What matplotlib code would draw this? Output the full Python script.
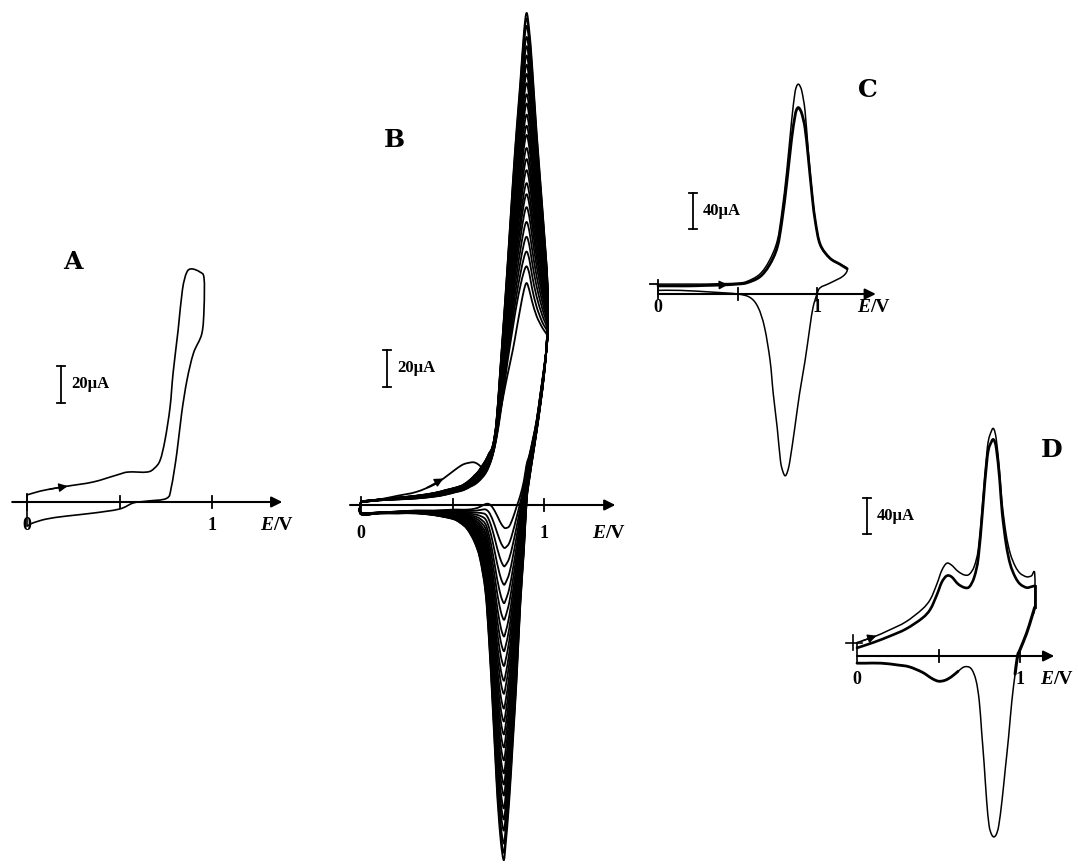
import matplotlib
matplotlib.use("Agg")
import matplotlib.pyplot as plt
from matplotlib.path import Path
from matplotlib.patches import PathPatch
import numpy as np

# ---------------- data (E in V, current in microampere) ----------------
# Panel A : first scan
A_fwd_E = [0.00, 0.05, 0.105, 0.214, 0.357, 0.486, 0.547, 0.65, 0.69, 0.72, 0.746,
           0.773, 0.79, 0.817, 0.84, 0.863, 0.89, 0.935, 0.957]
A_fwd_I = [3.8, 5.3, 6.6, 8.5, 10.8, 14.6, 16.2, 16.2, 18.4, 22.7, 33.5,
           51, 70, 93, 114.6, 124, 126, 124.3, 121]
A_rev_E = [0.957, 0.945, 0.90, 0.865, 0.836, 0.81, 0.78, 0.755, 0.65, 0.575,
           0.50, 0.357, 0.214, 0.105, 0.03, 0.005]
A_rev_I = [105, 91, 80.5, 66, 48, 26.5, 8, 2, 0.5, -0.5,
           -3.8, -6, -7.6, -9.2, -11.4, -12.8]

B_fwd_E = [0.00, 0.10, 0.20, 0.30, 0.40, 0.46, 0.52, 0.56, 0.60, 0.62, 0.64, 0.66, 0.68,
           0.70, 0.72, 0.74, 0.76, 0.78, 0.80, 0.83, 0.85, 0.87, 0.89, 0.905, 0.92,
           0.935, 0.96, 0.99, 1.02]
B_fwd_first = [1.5, 3, 5, 7, 11, 15, 19.5, 22, 23, 23, 22, 20.5, 21,
               26, 32, 40, 50, 60, 70, 84, 95, 106, 116, 120, 116,
               110, 102, 96, 91]
B_fwd_second = [1.5, 2.5, 3, 3.5, 4.5, 5.5, 7, 8, 10, 11, 12.5, 14.5, 17,
                21, 27, 36, 48, 62, 77, 96, 108, 118, 126, 129, 125,
                117, 107, 99, 93]
B_fwd_last = [2, 3, 4, 5, 6.5, 8, 9.5, 11, 14, 16, 18, 21, 24,
              28, 32, 45, 72, 100, 129, 175, 203, 228, 255, 266, 256,
              238, 201, 162, 118]
B_rev_E = [1.02, 1.015, 1.00, 0.98, 0.96, 0.94, 0.92, 0.905, 0.89, 0.87, 0.85, 0.83,
           0.81, 0.79, 0.78, 0.765, 0.75, 0.74, 0.72, 0.70, 0.68, 0.65, 0.62, 0.58,
           0.54, 0.50, 0.40, 0.30, 0.20, 0.10, 0.00]
B_rev_first = [91, 86, 74, 60, 46, 36, 27, 22, 13, 5, -1, -7,
               -11.5, -12.5, -12, -10, -7, -5, -1.5, 0.5, 0.5, -1, -2, -2.5,
               -2.5, -2.5, -3, -3, -3.5, -4, -4]
B_rev_last = [118, 88, 70, 54, 40, 27, 14, 2, -25, -55, -95, -128,
              -160, -184, -192, -183, -165, -149, -110, -74, -47, -29, -20, -13,
              -9.5, -7.5, -5.5, -4.5, -4.5, -4.5, -5]
B_ipa = [120, 129, 137, 145, 153, 161, 168, 174, 181, 187, 193, 200, 205,
         211, 217, 222, 228, 233, 238, 243, 248, 253, 259, 263, 266]
B_ipc = [-12, -23, -33, -43, -53, -62, -71, -79, -87, -95, -102, -110, -117,
         -124, -131, -138, -145, -151, -157, -164, -170, -176, -183, -188, -192]

# Panel C
C_fwd_E = [0.00, 0.10, 0.20, 0.30, 0.40, 0.50, 0.56, 0.64, 0.70, 0.75, 0.78, 0.81,
           0.84, 0.86, 0.87, 0.88, 0.89, 0.905, 0.925, 0.945, 0.97, 0.99, 1.02,
           1.08, 1.145, 1.19]
C_fwd_outer = [11, 11, 11, 11, 11.5, 12, 14, 22, 37, 59, 92, 137,
               192, 222, 230, 233, 232, 225, 203, 159, 111, 81, 55,
               40, 33, 28]
C_fwd_inner = [9, 9, 9, 9.5, 10, 11, 12.5, 19, 32, 52, 82, 124,
               172, 196, 204, 207, 206, 200, 184, 152, 108, 80, 55,
               40, 33, 28]
C_rev_E = [1.165, 1.08, 1.02, 1.00, 0.975, 0.955, 0.925, 0.89, 0.86, 0.83,
           0.815, 0.80, 0.785, 0.77, 0.75, 0.725, 0.705, 0.67, 0.63, 0.58, 0.50,
           0.35, 0.14, 0.00]
C_rev_I = [20, 12, 7, 0, -15, -37, -74, -111, -149, -185,
           -197, -202, -197, -185, -149, -111, -74, -37, -15, -4, 0,
           2, 4, 4]

# Panel D
D_fwd_E = [0.00, 0.10, 0.20, 0.30, 0.40, 0.45, 0.49, 0.52, 0.55, 0.58, 0.62, 0.66,
           0.69, 0.72, 0.745, 0.77, 0.80, 0.825, 0.84, 0.855, 0.875, 0.89, 0.915,
           0.94, 0.97, 1.00, 1.04, 1.07, 1.09]
D_fwd_outer = [15, 21, 29, 38, 52, 63, 80, 95, 103, 101, 94, 90,
               91, 100, 120, 170, 232, 250, 252, 240, 205, 170, 135,
               114, 100, 92, 88, 89, 92]
D_fwd_inner = [9, 15, 22, 30, 42, 52, 68, 82, 89, 88, 80, 76,
               77, 88, 110, 160, 222, 238, 240, 230, 196, 160, 124,
               102, 88, 80, 76, 77, 78]
D_rev_E = [1.09, 1.07, 1.04, 1.00, 0.985, 0.97, 0.95, 0.93, 0.91, 0.89, 0.87,
           0.855, 0.84, 0.825, 0.81, 0.795, 0.78, 0.765, 0.75, 0.73, 0.70, 0.66,
           0.62, 0.58, 0.54, 0.50, 0.46, 0.40, 0.32, 0.25, 0.15, 0.05, 0.00]
D_rev_I = [54, 42, 25, 7, 0, -20, -50, -90, -125, -160, -188,
           -198, -201, -198, -188, -160, -120, -85, -50, -27, -14, -12,
           -17, -23, -27, -28, -25, -18, -12, -10, -8, -8, -8]

# ---------------- layout ----------------
W, H = 1078, 864
fig = plt.figure(figsize=(W / 100, H / 100), dpi=100)
fig.patch.set_facecolor("white")

SERIF = "Liberation Serif"
LETTER = "DejaVu Serif"


def make_panel(x0, y0, sx, sy, elim, ilim):
    lp = x0 + elim[0] * sx
    rp = x0 + elim[1] * sx
    tp = y0 - ilim[1] * sy
    bp = y0 - ilim[0] * sy
    ax = fig.add_axes([lp / W, 1 - bp / H, (rp - lp) / W, (bp - tp) / H])
    ax.set_xlim(elim)
    ax.set_ylim(ilim)
    ax.set_axis_off()
    ax.patch.set_visible(False)
    return ax


def curve(ax, E, I, lw=1.1):
    """Draw the read points as a smooth Catmull-Rom curve (cubic Bezier path)."""
    P = np.column_stack([np.asarray(E, float), np.asarray(I, float)])
    n = len(P)
    verts = [P[0]]
    codes = [Path.MOVETO]
    for i in range(n - 1):
        p0 = P[i - 1] if i > 0 else P[i]
        p1, p2 = P[i], P[i + 1]
        p3 = P[i + 2] if i + 2 < n else P[i + 1]
        verts += [p1 + (p2 - p0) / 6.0, p2 - (p3 - p1) / 6.0, p2]
        codes += [Path.CURVE4] * 3
    ax.add_patch(PathPatch(Path(verts, codes), fill=False, lw=lw, edgecolor="k",
                           joinstyle="round", capstyle="round", clip_on=False))


def ftext(px, py, s, **kw):
    fig.text(px / W, 1 - py / H, s, **kw)


def decorate(ax, p, letter, bar_uA, letter_xy, bar_xy, e_start, e_end, labels_y, ev_x, plus_axis):
    x0, y0, sx, sy = p
    ax.annotate("", xy=(e_end, 0), xytext=(e_start, 0),
                arrowprops=dict(arrowstyle="-|>", color="k", lw=1.5,
                                mutation_scale=16, shrinkA=0, shrinkB=0),
                annotation_clip=False)
    t = 6 / sy
    for e in (0.5, 1.0):
        ax.plot([e, e], [-t, t], color="k", lw=1.3, clip_on=False)
    if plus_axis:
        ax.plot([0, 0], [-8 / sy, 8 / sy], color="k", lw=1.3, clip_on=False)
    lab = dict(fontsize=13, family=SERIF, weight="bold", ha="center", va="center")
    ftext(x0, labels_y, "0", **lab)
    ftext(x0 + sx, labels_y, "1", **lab)
    ftext(ev_x, labels_y, "E", fontsize=14, family=SERIF, weight="bold",
          style="italic", ha="left", va="center")
    ftext(ev_x + 13, labels_y, "/V", fontsize=14, family=SERIF, weight="bold",
          ha="left", va="center")
    bx, bby = bar_xy
    be = (bx - x0) / sx
    bi = (y0 - bby) / sy
    c = 4 / sx
    ax.plot([be, be], [bi, bi + bar_uA], color="k", lw=1.3, clip_on=False)
    ax.plot([be - c, be + c], [bi, bi], color="k", lw=1.3, clip_on=False)
    ax.plot([be - c, be + c], [bi + bar_uA, bi + bar_uA], color="k", lw=1.3, clip_on=False)
    ftext(bx + 10, bby - bar_uA * sy / 2, "%d\u03bcA" % bar_uA, fontsize=12,
          family=SERIF, weight="bold", ha="left", va="center")
    ftext(letter_xy[0], letter_xy[1], letter, fontsize=18, family=LETTER,
          weight="bold", ha="center", va="center")


def dir_arrow(ax, E, I, e1, e2):
    i1 = np.interp(e1, E, I)
    i2 = np.interp(e2, E, I)
    ax.annotate("", xy=(e2, i2), xytext=(e1, i1),
                arrowprops=dict(arrowstyle="-|>", color="k", lw=1.0,
                                mutation_scale=13, shrinkA=0, shrinkB=0),
                annotation_clip=False)


# ---------- Panel A ----------
pA = (27, 502, 185, 1.85)
axA = make_panel(*pA, (-0.1, 1.5), (-30, 140))
curve(axA, A_fwd_E + A_rev_E, A_fwd_I + A_rev_I, lw=1.2)
axA.plot([0, 0], [A_rev_I[-1], A_fwd_I[0]], color="k", lw=1.2)
dir_arrow(axA, A_fwd_E, A_fwd_I, 0.12, 0.22)
decorate(axA, pA, "A", 20, (73, 262), (61, 403), -0.08, 1.38, 525, 260, True)

# ---------- Panel B ----------
pB = (361, 505, 183, 1.85)
axB = make_panel(*pB, (-0.1, 1.5), (-200, 275))
fF = np.array(B_fwd_first)
fS = np.array(B_fwd_second)
fL = np.array(B_fwd_last)
rF = np.array(B_rev_first)
rL = np.array(B_rev_last)
for k, (ipa, ipc) in enumerate(zip(B_ipa, B_ipc)):
    if k == 0:
        fwd = fF
    else:
        wa = (ipa - B_ipa[1]) / (B_ipa[-1] - B_ipa[1])
        fwd = fS + wa * (fL - fS)
    wc = (ipc - B_ipc[0]) / (B_ipc[-1] - B_ipc[0])
    rev = rF + wc * (rL - rF)
    E = list(B_fwd_E) + list(B_rev_E[1:]) + [0.0]
    I = list(fwd) + list(rev[1:]) + [fwd[0]]
    curve(axB, E, I, lw=1.3)
dir_arrow(axB, B_fwd_E, B_fwd_first, 0.36, 0.45)
decorate(axB, pB, "B", 20, (394, 140), (387, 387), -0.06, 1.39, 533, 592, True)

# ---------- Panel C ----------
pC = (658, 294, 159, 0.9)
axC = make_panel(*pC, (-0.1, 1.5), (-230, 260))
curve(axC, C_fwd_E + C_rev_E, C_fwd_outer + C_rev_I, lw=1.1)
curve(axC, C_fwd_E, C_fwd_inner, lw=2.0)
axC.plot([0, 0], [0, C_fwd_outer[0]], color="k", lw=1.2)
axC.plot([-0.05, 0.0], [C_fwd_outer[0], C_fwd_outer[0]], color="k", lw=1.3)
dir_arrow(axC, C_fwd_E, C_fwd_inner, 0.33, 0.44)
decorate(axC, pC, "C", 40, (868, 90), (693, 229), 0.0, 1.37, 308, 857, False)
axC.plot([0, 0], [-4, 16], color="k", lw=1.3)

# ---------- Panel D ----------
pD = (857, 656, 163, 0.9)
axD = make_panel(*pD, (-0.1, 1.5), (-230, 260))
curve(axD, D_fwd_E + D_rev_E, D_fwd_outer + D_rev_I, lw=1.1)
curve(axD, D_fwd_E, D_fwd_inner, lw=1.9)
axD.plot([1.09, 1.09], [D_fwd_inner[-1], D_rev_I[0]], color="k", lw=2.0)
curve(axD, D_rev_E[:6], D_rev_I[:6], lw=2.2)
curve(axD, D_rev_E[-11:], D_rev_I[-11:], lw=2.0)
axD.plot([0, 0], [D_rev_I[-1], D_fwd_outer[0]], color="k", lw=1.2)
axD.plot([-0.07, 0.03], [D_fwd_outer[0], D_fwd_outer[0]], color="k", lw=1.2)
axD.plot([-0.025, -0.025], [D_fwd_outer[0] - 8, D_fwd_outer[0] + 8], color="k", lw=1.2)
dir_arrow(axD, D_fwd_E, D_fwd_outer, 0.03, 0.12)
decorate(axD, pD, "D", 40, (1052, 450), (867, 534), 0.0, 1.21, 680, 1040, False)

fig.savefig("out.png", dpi=100, facecolor="white")
